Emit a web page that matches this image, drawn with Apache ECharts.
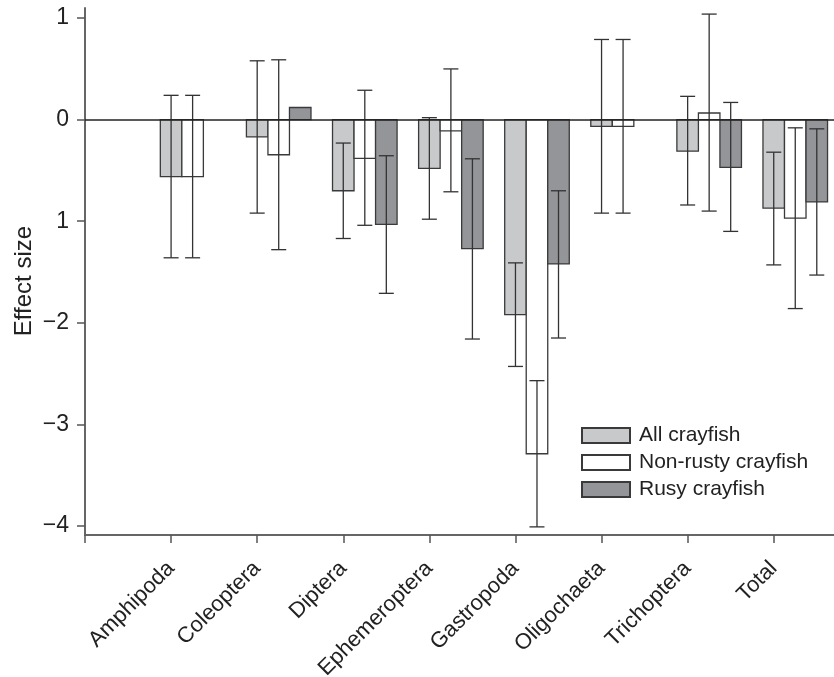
<!DOCTYPE html>
<html>
<head>
<meta charset="utf-8">
<script src="https://cdn.jsdelivr.net/npm/echarts@6/dist/echarts.min.js"></script>
<style>
html,body{margin:0;padding:0;background:#fff;}
#chart{width:834px;height:677px;}
</style>
</head>
<body>
<div id="chart"></div>
<script>
var categories = ['Amphipoda','Coleoptera','Diptera','Ephemeroptera','Gastropoda','Oligochaeta','Trichoptera','Total'];
var seriesNames = ['All crayfish','Non-rusty crayfish','Rusy crayfish'];
var yAxisTitle = 'Effect size';

var allMean  = [-0.56, -0.17, -0.70, -0.48, -1.92, -0.066, -0.31, -0.87];
var allLow   = [-1.36, -0.92, -1.17, -0.98, -2.43, -0.92, -0.84, -1.43];
var allHigh  = [ 0.24,  0.58, -0.23,  0.02, -1.41,  0.79,  0.23, -0.32];

var nonMean  = [-0.56, -0.345, -0.38, -0.11, -3.29, -0.066, 0.066, -0.97];
var nonLow   = [-1.36, -1.28, -1.04, -0.71, -4.01, -0.92, -0.90, -1.86];
var nonHigh  = [ 0.24,  0.59,  0.29,  0.50, -2.57,  0.79,  1.04, -0.08];

var rustyMean = [null, 0.12, -1.03, -1.27, -1.42, null, -0.47, -0.81];
var rustyLow  = [null, null, -1.71, -2.16, -2.15, null, -1.10, -1.53];
var rustyHigh = [null, null, -0.355, -0.385, -0.70, null, 0.17, -0.09];

var yTickValues = [-4, -3, -2, -1, 0, 1];
var yTickLabels = ['\u22124', '\u22123', '\u22122', '1', '0', '1'];
var xTickValues = [0, 1, 2, 3, 4, 5, 6, 7, 8];
var xLabelValues = [1, 2, 3, 4, 5, 6, 7, 8];

var BAR_W = 0.25;
var offsets = [0, 0.25, 0.5];
var colors = ['#c8c9cb', '#ffffff', '#939598'];
var FONT = 'Liberation Sans, Arial, sans-serif';

function buildData(mean, low, high, s) {
  var out = [];
  for (var i = 0; i < mean.length; i++) {
    if (mean[i] == null) continue;
    out.push([i + 1 + offsets[s], mean[i], low[i], high[i]]);
  }
  return out;
}

function renderItem(params, api) {
  var x = api.value(0), m = api.value(1), lo = api.value(2), hi = api.value(3);
  var p0 = api.coord([x - BAR_W / 2, 0]);
  var p1 = api.coord([x + BAR_W / 2, m]);
  var children = [{
    type: 'rect',
    shape: {x: p0[0], y: Math.min(p0[1], p1[1]), width: p1[0] - p0[0], height: Math.abs(p1[1] - p0[1])},
    style: {fill: colors[params.seriesIndex], stroke: '#3a3a3a', lineWidth: 1.3}
  }];
  if (!isNaN(lo) && !isNaN(hi)) {
    var c = api.coord([x, lo]);
    var t = api.coord([x, hi]);
    var es = {stroke: '#333', lineWidth: 1.3};
    children.push({type: 'line', shape: {x1: c[0], y1: c[1], x2: t[0], y2: t[1]}, style: es});
    children.push({type: 'line', shape: {x1: c[0] - 7.5, y1: c[1], x2: c[0] + 7.5, y2: c[1]}, style: es});
    children.push({type: 'line', shape: {x1: t[0] - 7.5, y1: t[1], x2: t[0] + 7.5, y2: t[1]}, style: es});
  }
  return {type: 'group', children: children};
}

var means = [allMean, nonMean, rustyMean];
var lows = [allLow, nonLow, rustyLow];
var highs = [allHigh, nonHigh, rustyHigh];

var series = [];
for (var s = 0; s < 3; s++) {
  series.push({
    name: seriesNames[s],
    type: 'custom',
    renderItem: renderItem,
    itemStyle: {color: colors[s], borderColor: '#3a3a3a', borderWidth: 1.3},
    encode: {x: 0, y: 1},
    data: buildData(means[s], lows[s], highs[s], s),
    z: 2
  });
}
series.push({
  type: 'line',
  data: [],
  silent: true,
  markLine: {
    silent: true,
    symbol: 'none',
    label: {show: false},
    lineStyle: {color: '#222', width: 1.5, type: 'solid'},
    data: [{yAxis: 0}]
  },
  z: 3
});

var chart = echarts.init(document.getElementById('chart'), null, {renderer: 'canvas'});
chart.setOption({
  animation: false,
  backgroundColor: '#fff',
  grid: {left: 85, right: 0, top: 8, bottom: 142, containLabel: false, outerBoundsMode: 'none'},
  graphic: [{
    type: 'text',
    x: 24,
    y: 281,
    rotation: Math.PI / 2,
    style: {text: yAxisTitle, fontFamily: FONT, fontSize: 24, fill: '#222', align: 'center', verticalAlign: 'middle'}
  }],
  legend: {
    data: seriesNames,
    orient: 'vertical',
    left: 581,
    top: 425,
    padding: 0,
    itemWidth: 48,
    itemHeight: 15,
    itemGap: 6,
    icon: 'rect',
    textStyle: {fontFamily: FONT, fontSize: 21, color: '#222', padding: [0, 0, 0, 4]},
    selectedMode: false
  },
  xAxis: {
    type: 'value',
    min: 0,
    max: 8.7,
    splitLine: {show: false},
    axisLine: {show: true, onZero: false, lineStyle: {color: '#666', width: 2}},
    axisTick: {show: true, length: 8, customValues: xTickValues, lineStyle: {color: '#555', width: 1.5}},
    axisLabel: {
      customValues: xLabelValues,
      rotate: 45,
      margin: 30,
      fontFamily: FONT,
      fontSize: 22,
      color: '#222',
      formatter: function (v) { return categories[Math.round(v) - 1] || ''; }
    }
  },
  yAxis: {
    type: 'value',
    min: -4.09,
    max: 1.1,
    splitLine: {show: false},
    axisLine: {show: true, lineStyle: {color: '#666', width: 2}},
    axisTick: {show: true, length: 8, customValues: yTickValues, lineStyle: {color: '#555', width: 1.5}},
    axisLabel: {
      customValues: yTickValues,
      margin: 16,
      fontFamily: FONT,
      fontSize: 23,
      color: '#222',
      formatter: function (v) { var i = yTickValues.indexOf(Math.round(v)); return i >= 0 ? yTickLabels[i] : ''; }
    }
  },
  series: series
});
</script>
</body>
</html>
